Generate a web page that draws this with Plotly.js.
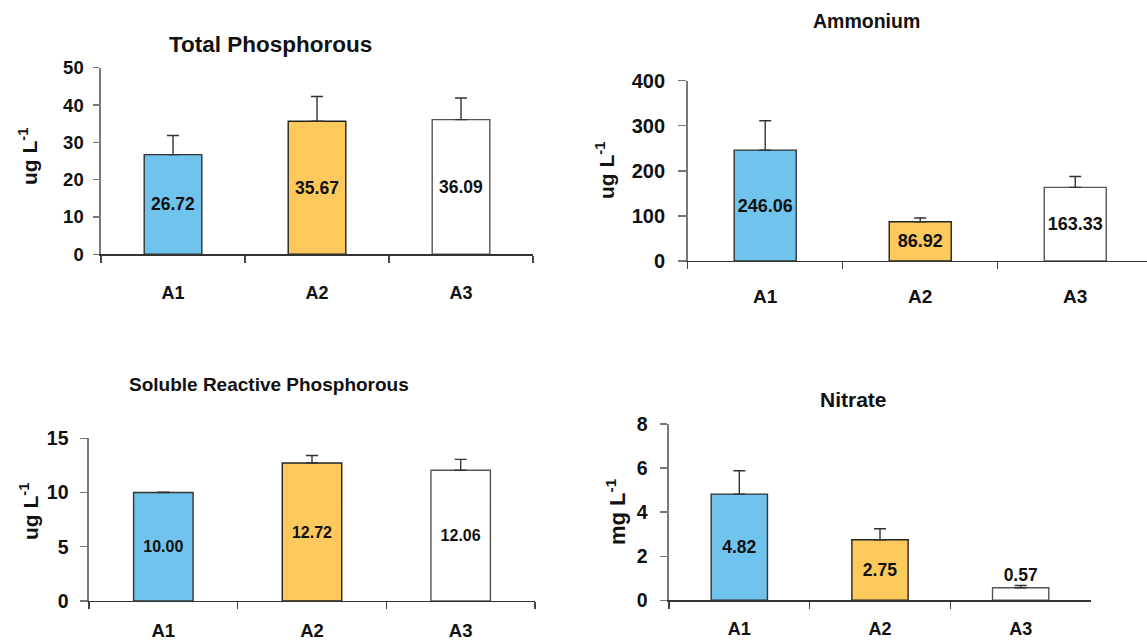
<!DOCTYPE html>
<html>
<head>
<meta charset="utf-8">
<script src="https://cdn.plot.ly/plotly-3.0.1.min.js"></script>
<style>
  html, body { margin: 0; padding: 0; background: #ffffff; }
  #chart { width: 1147px; height: 644px; }
</style>
</head>
<body>
<div id="chart"></div>
<script>
// ---- Data ----
const categories = ['A1', 'A2', 'A3'];

const totalPhosphorousValues = [26.72, 35.67, 36.09];
const totalPhosphorousErrors = [5.1, 6.6, 5.8];

const ammoniumValues = [246.06, 86.92, 163.33];
const ammoniumErrors = [65, 8.5, 24];

const srpValues = [10.00, 12.72, 12.06];
const srpErrors = [0.03, 0.7, 1.0];

const nitrateValues = [4.82, 2.75, 0.57];
const nitrateErrors = [1.06, 0.5, 0.1];

const panelTitles = ['Total Phosphorous', 'Ammonium', 'Soluble Reactive Phosphorous', 'Nitrate'];
const unitLabels = ['ug L<sup>-1</sup>', 'ug L<sup>-1</sup>', 'ug L<sup>-1</sup>', 'mg L<sup>-1</sup>'];

// ---- Styles ----
const FONT = 'Liberation Sans, Arial, Helvetica, sans-serif';
const W = 1147, H = 644;
const barColors = ['#6FC3EC', '#FDC85C', '#FFFFFF'];
const barLines = ['#333333', '#222222', '#555555'];

function px2x(px) { return px / W; }
function px2y(py) { return 1 - py / H; }

function makeBar(values, errors, xa, ya, textSize, positions) {
  return {
    type: 'bar',
    x: categories,
    y: values,
    xaxis: xa,
    yaxis: ya,
    marker: { color: barColors, line: { color: barLines, width: 1.4 } },
    text: values.map(v => v.toFixed(2)),
    textposition: positions || ['inside', 'inside', 'inside'],
    insidetextanchor: 'middle',
    constraintext: 'none',
    textangle: 0,
    textfont: { family: FONT, size: textSize, color: '#111111', weight: 'bold' },
    cliponaxis: false,
    error_y: {
      type: 'data', symmetric: false,
      array: errors, arrayminus: [0, 0, 0],
      color: '#333333', thickness: 1.4, width: 6
    },
    hoverinfo: 'none',
    showlegend: false
  };
}

const data = [
  makeBar(totalPhosphorousValues, totalPhosphorousErrors, 'x', 'y', 17.5),
  makeBar(ammoniumValues, ammoniumErrors, 'x2', 'y2', 18),
  makeBar(srpValues, srpErrors, 'x3', 'y3', 16),
  makeBar(nitrateValues, nitrateErrors, 'x4', 'y4', 17.5, ['inside', 'inside', 'outside'])
];

function xAxis(left, right, anchor, range, tickSize, standoff) {
  return {
    domain: [px2x(left), Math.min(1, px2x(right))],
    anchor: anchor,
    type: 'category',
    range: range,
    tickson: 'boundaries',
    ticks: 'outside', ticklen: 7, tickwidth: 1.4, tickcolor: '#444444',
    showline: true, linecolor: '#333333', linewidth: 1.4,
    showgrid: false, zeroline: false,
    tickfont: { family: FONT, size: tickSize, color: '#111111', weight: 'bold' },
    ticklabelstandoff: standoff,
    fixedrange: true
  };
}

function yAxis(top, bottom, anchor, range, dtick, tickSize, ticklen, standoff) {
  return {
    domain: [px2y(bottom), px2y(top)],
    anchor: anchor,
    range: range,
    tick0: 0, dtick: dtick,
    ticks: 'outside', ticklen: ticklen, tickwidth: 1.4, tickcolor: '#777777',
    showline: true, linecolor: '#777777', linewidth: 1.6,
    showgrid: false, zeroline: false,
    tickfont: { family: FONT, size: tickSize, color: '#111111', weight: 'bold' },
    ticklabelstandoff: standoff,
    fixedrange: true
  };
}

function textAnn(text, cx, cy, size, angle) {
  return {
    text: text, xref: 'paper', yref: 'paper',
    x: px2x(cx), y: px2y(cy), xanchor: 'center', yanchor: 'middle',
    textangle: angle || 0,
    showarrow: false, font: { family: FONT, size: size, color: '#111111', weight: 'bold' }
  };
}

const layout = {
  width: W, height: H,
  margin: { l: 0, r: 0, t: 0, b: 0 },
  paper_bgcolor: '#ffffff', plot_bgcolor: 'rgba(0,0,0,0)',
  bargap: 0.6,
  showlegend: false,
  font: { family: FONT, color: '#111111' },

  xaxis:  xAxis(101, 533, 'y', [-0.5, 2.5], 18, 22),
  yaxis:  yAxis(67.7, 254.3, 'x', [0, 50], 10, 18.5, 6, 6),

  xaxis2: xAxis(687.7, 1147, 'y2', [-0.5, 2.463], 19, 18),
  yaxis2: yAxis(80.7, 261, 'x2', [0, 400], 100, 20, 8, 9),

  xaxis3: xAxis(89, 535, 'y3', [-0.5, 2.5], 18.5, 12),
  yaxis3: yAxis(438.3, 601, 'x3', [0, 15], 5, 19.5, 7, 8),

  xaxis4: xAxis(669, 1091, 'y4', [-0.5, 2.5], 18, 12),
  yaxis4: yAxis(424, 600.3, 'x4', [0, 8], 2, 19.5, 7, 9),

  annotations: [
    textAnn(panelTitles[0], 270, 45, 22.5),
    textAnn(panelTitles[1], 866, 21, 19.5),
    textAnn(panelTitles[2], 269, 384, 19),
    textAnn(panelTitles[3], 853, 399, 21),
    textAnn(unitLabels[0], 28, 157, 21, -90),
    textAnn(unitLabels[1], 605, 171, 21, -90),
    textAnn(unitLabels[2], 29, 512, 21, -90),
    textAnn(unitLabels[3], 616, 512, 22, -90)
  ]
};

Plotly.newPlot('chart', data, layout, { displayModeBar: false, staticPlot: true });
</script>
</body>
</html>
